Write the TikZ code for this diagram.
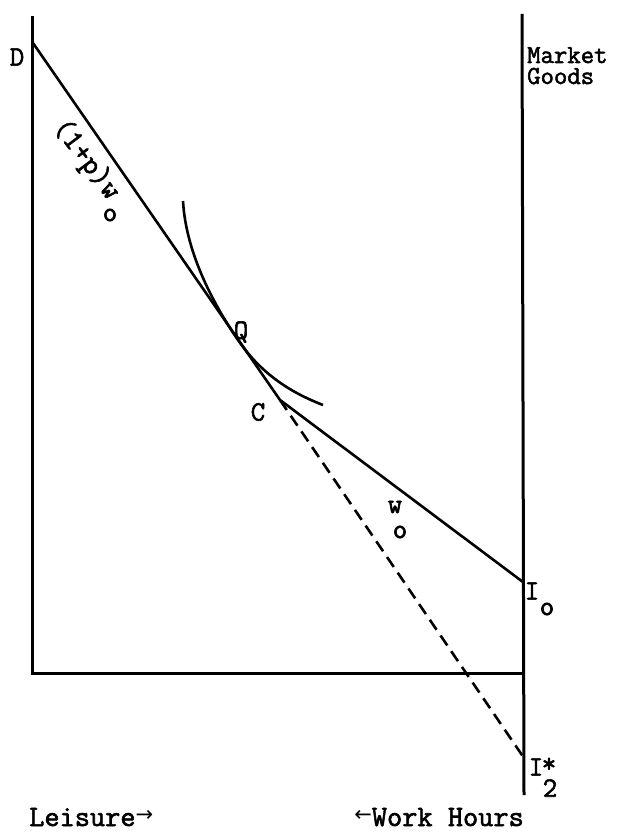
\documentclass[tikz,border=0pt]{standalone}
\usepackage{fontspec}
\setmonofont[FakeBold=2]{Latin Modern Mono}
\newfontfamily\arrowfont{DejaVu Sans}
\begin{document}
\begin{tikzpicture}[x=1pt,y=-1pt,
  axis/.style={line width=3pt},
  budget/.style={line width=2.6pt},
  lbl/.style={inner sep=0pt,font=\ttfamily\fontsize{28}{28}\selectfont},
  small/.style={inner sep=0pt,font=\ttfamily\fontsize{28}{28}\selectfont}]
\useasboundingbox (0,0) rectangle (624,832);
% named points
\coordinate (ltop) at (32,16);
\coordinate (origin) at (32,673);
\coordinate (rtop) at (522,14);
\coordinate (rcorner) at (523,673);
\coordinate (rbot) at (524,795);
\coordinate (D) at (33,43);
\coordinate (Q) at (238,340);
\coordinate (C) at (280,400);
\coordinate (Io) at (523,582);
\coordinate (I2) at (524,758);
\coordinate (icA) at (183,201);
\coordinate (icB) at (323,405);
% axes
\draw[axis] (ltop) -- (origin) -- (rcorner);
\draw[axis] (rtop) -- (rbot);
% budget lines
\draw[budget] (D) -- (C) -- (Io);
\draw[budget,dash pattern=on 12pt off 7pt] (C) -- (I2);
% indifference curve
\draw[budget] (icA) .. controls (186,255) and (216,308) .. (Q)
  .. controls (262,375) and (292,393) .. (icB);
% labels
\node[lbl] (lD) at (17,57) {D};
\node[lbl,rotate=-53,font=\ttfamily\fontsize{30}{30}\selectfont] (lslope) at (86,160) {(1+p)w};
\node[small] (lslopeo) at (110,215) {o};
\node[lbl] (lQ) at (241,332) {Q};
\node[lbl] (lC) at (258,412) {C};
\node[lbl] (lw) at (395,507) {w};
\node[small] (lwo) at (400,532) {o};
\node[lbl] (lI) at (532,591) {I};
\node[small] (lIo) at (547,609) {o};
\node[lbl] (lI2) at (536,767) {I};
\node[small] (lstar) at (549,765) {*};
\node[small] (ltwo) at (550,788) {2};
\node[small,anchor=base west,align=left,font=\ttfamily\fontsize{26}{21}\selectfont] (lmg) at (527,84) {Market\\Goods};
\node[lbl,anchor=base west,font=\ttfamily\fontsize{29.5}{30}\selectfont] (lleis) at (29,826) {Leisure\raisebox{5pt}{\arrowfont\fontsize{21}{21}\selectfont →}};
\node[lbl,anchor=base east,font=\ttfamily\fontsize{29.5}{30}\selectfont] (lwork) at (524,826) {\raisebox{5pt}{\arrowfont\fontsize{21}{21}\selectfont ←}Work Hours};
\end{tikzpicture}
\end{document}
